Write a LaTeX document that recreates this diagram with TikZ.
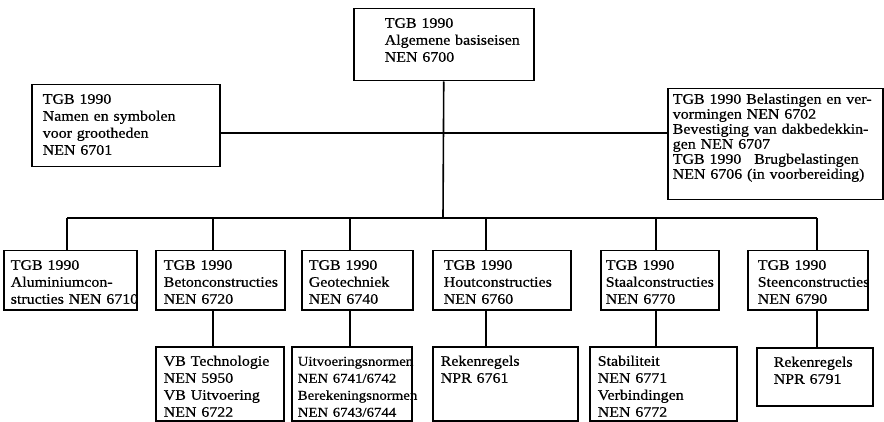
\documentclass[tikz,border=0pt]{standalone}
\usepackage{fontspec}
\setmainfont{Liberation Serif}[FakeStretch=1.1, FakeBold=0.6]
\usetikzlibrary{positioning,calc}

\begin{document}
\begin{tikzpicture}[
    x=1pt, y=-1pt,
    box/.style={draw, rectangle, line width=1.5pt, anchor=north west, align=left,
        inner xsep=0pt, inner ysep=5pt, text height=14pt, pad=7pt,
        font=\fontsize{14.5}{17}\selectfont},
    pad/.style={execute at begin node={\leftskip=#1\rightskip=0pt plus 1fil minus 40pt\relax}},
    link/.style={line width=1.6pt}
]
    \useasboundingbox (0,0) rectangle (884,422);

    % Top level
    \node[box, pad=31pt, text width=180pt, text depth=48pt] (base) at (353,8)
        {TGB 1990\\ Algemene basiseisen\\ NEN 6700};
    \node[box, pad=11pt, text width=188pt, text depth=58pt] (symb) at (31,84)
        {TGB 1990\\ Namen en symbolen\\ voor grootheden\\ NEN 6701};
    \node[box, pad=5pt, text width=215pt, text height=10pt, text depth=91pt,
        font=\fontsize{14.5}{15}\selectfont] (belast) at (667,88)
        {TGB 1990 Belastingen en ver-\\ vormingen NEN 6702\\ Bevestiging van dakbedekkin-\\
         gen NEN 6707\\ TGB 1990\hspace{8pt} Brugbelastingen\\ NEN 6706 (in voorbereiding)};

    % Second row
    \node[box, text width=133pt, text depth=35pt] (alu) at (3,250)
        {TGB 1990\\ Aluminiumcon-\\ structies NEN 6710};
    \node[box, pad=8pt, text width=129pt, text depth=35pt] (beton) at (155,250)
        {TGB 1990\\ Betonconstructies\\ NEN 6720};
    \node[box, text width=111pt, text depth=35pt] (geo) at (301,250)
        {TGB 1990\\ Geotechniek\\ NEN 6740};
    \node[box, pad=11pt, text width=138pt, text depth=35pt] (hout) at (432,250)
        {TGB 1990\\ Houtconstructies\\ NEN 6760};
    \node[box, pad=5pt, text width=118pt, text depth=35pt] (staal) at (600,250)
        {TGB 1990\\ Staalconstructies\\ NEN 6770};
    \node[box, pad=10pt, text width=120pt, text depth=35pt] (steen) at (747,250)
        {TGB 1990\\ Steenconstructies\\ NEN 6790};

    % Third row
    \node[box, pad=8pt, text width=128pt, text depth=50pt] (vb) at (155,346)
        {VB Technologie\\ NEN 5950\\ VB Uitvoering\\ NEN 6722};
    \node[box, pad=6pt, text width=120pt, text depth=50pt,
        font=\fontsize{13.5}{17}\selectfont] (uitv) at (291,346)
        {Uitvoeringsnormen\\ NEN 6741/6742\\ Berekeningsnormen\\ NEN 6743/6744};
    \node[box, pad=8pt, text width=145pt, text depth=50pt] (reken) at (432,346)
        {Rekenregels\\ NPR 6761};
    \node[box, pad=8pt, text width=147pt, text depth=50pt] (stab) at (589,346)
        {Stabiliteit\\ NEN 6771\\ Verbindingen\\ NEN 6772};
    \node[box, pad=17pt, text width=116pt, text depth=34pt] (rekensteen) at (756,347)
        {Rekenregels\\ NPR 6791};

    % Lines
    \coordinate (hub) at (443,133);
    \coordinate (bus) at (443,218);
    \draw[link] (symb.east |- hub) -- (belast.west |- hub);
    \draw[link] (base.south) -- (bus);

    \foreach \n/\d in {alu/64, beton/58, geo/49, hout/54, staal/56, steen/70}
        \path ($(\n.north west)+(\d,0)$) coordinate (\n-top);
    \draw[link] (alu-top |- bus) -- (steen-top |- bus);
    \foreach \n in {alu, beton, geo, hout, staal, steen}
        \draw[link] (\n-top |- bus) -- (\n-top);

    \foreach \n/\s in {beton/vb, geo/uitv, hout/reken, staal/stab, steen/rekensteen}
        \draw[link] (\n-top |- \n.south) -- (\n-top |- \s.north);

\end{tikzpicture}
\end{document}
